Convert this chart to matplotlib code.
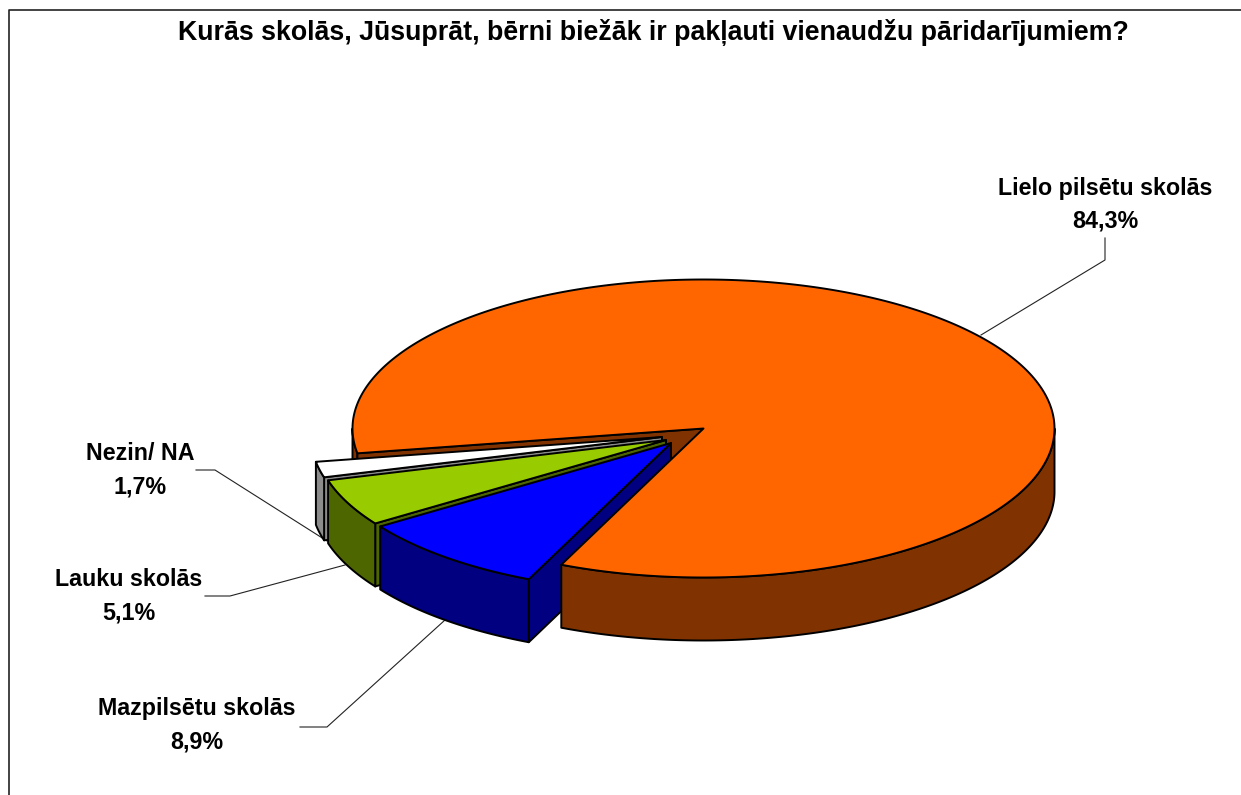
import numpy as np
import matplotlib
matplotlib.use("Agg")
import matplotlib.pyplot as plt

# ---- data ----
categories = ["Lielo pilsētu skolās", "Mazpilsētu skolās", "Lauku skolās", "Nezin/ NA"]
values = [84.3, 8.9, 5.1, 1.7]
value_labels = ["84,3%", "8,9%", "5,1%", "1,7%"]
title = "Kurās skolās, Jūsuprāt, bērni biežāk ir pakļauti vienaudžu pāridarījumiem?"

# ---- styling and geometry (pixels of the canvas) ----
top_colors = ["#FF6600", "#0000FF", "#99CC00", "#FFFFFF"]
side_colors = ["#803300", "#000080", "#4D6600", "#8C8C8C"]
apexes = [(703.5, 428.5), (671, 443), (666, 440), (662, 437)]
label_centers = [(1105, 188), (197, 709), (129, 580), (140, 454)]
leaders = [
    [(1105, 238), (1105, 260), (981, 335)],
    [(300, 727), (327, 727), (445, 620)],
    [(205, 596), (230, 596), (345, 565)],
    [(196, 470), (215, 470), (327, 541)],
]
RX, RY, DEPTH = 351, 149, 63
START = 189.58
LW = 1.4

W, H = 1241, 795
plt.rcParams["font.family"] = ["Liberation Sans", "DejaVu Sans"]
fig = plt.figure(figsize=(W / 100, H / 100), dpi=100)
ax = fig.add_axes([0, 0, 1, 1])
ax.set_xlim(0, W)
ax.set_ylim(H, 0)
ax.axis("off")


def rim(apex, a_deg):
    a = np.radians(a_deg)
    return apex[0] + RX * np.cos(a), apex[1] - RY * np.sin(a)


def arc(apex, a0, a1, n=200):
    x, y = rim(apex, np.linspace(a0, a1, n))
    return x, y


def poly(x, y, color, z):
    ax.fill(x, y, facecolor=color, edgecolor="black", linewidth=LW, joinstyle="round", zorder=z)


def wall(apex, a0, a1, color, z):
    x, y = arc(apex, a0, a1)
    poly(np.r_[x, x[::-1]], np.r_[y, y[::-1] + DEPTH], color, z)


def cut_face(apex, a, color, z):
    x, y = rim(apex, a)
    px = [apex[0], x, x, apex[0]]
    py = [apex[1], y, y + DEPTH, apex[1] + DEPTH]
    poly(px, py, color, z)


def top(apex, a0, a1, color, z):
    x, y = arc(apex, a0, a1, 400)
    poly(np.r_[apex[0], x], np.r_[apex[1], y], color, z)


# slice angles, running clockwise from START
sweeps = [v / sum(values) * 360 for v in values]
ends = START - np.cumsum([0] + sweeps)   # ends[i] high edge, ends[i+1] low edge
ends[1:] += 360

# orange: spans from ends[1] up through 360 to START
hi0, lo0 = ends[0] + 360, ends[1]
wall(apexes[0], 180, ends[0], side_colors[0], 1)
cut_face(apexes[0], ends[0], side_colors[0], 1)

# detached slices, back to front
for i, z in zip([3, 2, 1], [2, 3, 4]):
    hi, lo = ends[i], ends[i + 1]
    cut_face(apexes[i], hi, side_colors[i], z)
    wall(apexes[i], lo, hi, side_colors[i], z)
    top(apexes[i], lo, hi, top_colors[i], z)

# orange on top
wall(apexes[0], lo0, 360, side_colors[0], 5)
top(apexes[0], lo0, hi0, top_colors[0], 6)

# frame
ax.plot([8.5, 8.5, W + 5], [H + 5, 9.5, 9.5], color="#222222", lw=1.2, zorder=7, clip_on=True)

# title, labels, leaders
ax.text(653.5, 32.5, title, ha="center", va="center", fontsize=19.25, fontweight="bold", color="black", zorder=8)
for name, val, (cx, cy), path in zip(categories, value_labels, label_centers, leaders):
    ax.text(cx, cy, name, ha="center", va="center", fontsize=16.75, fontweight="bold", color="black", zorder=8)
    ax.text(cx, cy + 33, val, ha="center", va="center", fontsize=16.75, fontweight="bold", color="black", zorder=8)
    xs, ys = zip(*path)
    ax.plot(xs, ys, color="#222222", lw=0.8, zorder=0.5)

fig.savefig("out.png", dpi=100, facecolor="white")
